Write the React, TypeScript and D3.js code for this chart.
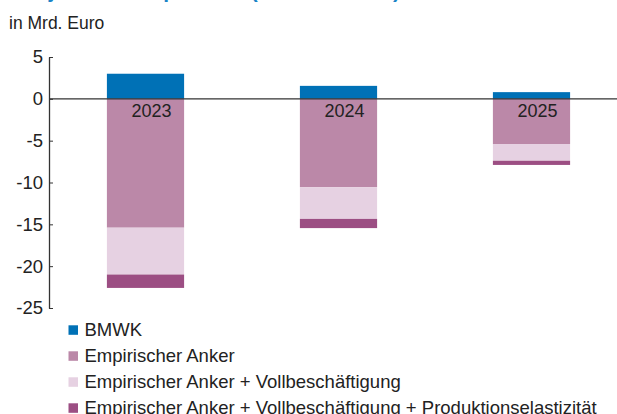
import { useEffect, useRef } from 'react';
import * as d3 from 'd3';

// Jahre und Segmente (Mrd. Euro)
const years = ['2023', '2024', '2025'];
const bmwk = [3.0, 1.55, 0.8];
const anker = [-15.4, -10.55, -5.4];
const vollbeschaeftigung = [-5.6, -3.8, -2.0];
const produktionselastizitaet = [-1.6, -1.1, -0.5];

const seriesNames = [
  'BMWK',
  'Empirischer Anker',
  'Empirischer Anker + Vollbeschäftigung',
  'Empirischer Anker + Vollbeschäftigung + Produktionselastizität',
];
const seriesColors = ['#0071b6', '#bb88a8', '#e6d1e2', '#9c4e83'];
const yTicks = [5, 0, -5, -10, -15, -20, -25];

const FONT = '"Liberation Sans", Arial, Helvetica, sans-serif';

const App = () => {
  const svgRef = useRef<SVGSVGElement>(null);

  useEffect(() => {
    const W = 617;
    const H = 414;
    const svg = d3.select(svgRef.current);
    svg.selectAll('*').remove();
    svg.attr('width', W).attr('height', H);

    // Titel (oben abgeschnitten wie im Original)
    svg.append('text')
      .attr('x', 8)
      .attr('y', -2.5)
      .attr('fill', '#1a84c7')
      .style('font-family', FONT)
      .style('font-size', '21px')
      .style('font-weight', 'bold')
      .text('Konjunkturkomponente (2023 bis 2025)');

    svg.append('text')
      .attr('x', 9)
      .attr('y', 29)
      .attr('fill', '#222')
      .style('font-family', FONT)
      .style('font-size', '17.5px')
      .text('in Mrd. Euro');

    const x = d3.scaleBand<string>()
      .domain(years)
      .range([49, 628])
      .paddingInner(0.6)
      .paddingOuter(0.3);

    const y = d3.scaleLinear()
      .domain([-25, 5])
      .range([308, 57]);

    const rows = years.map((yr, i) => ({
      year: yr,
      s0: bmwk[i],
      s1: anker[i],
      s2: vollbeschaeftigung[i],
      s3: produktionselastizitaet[i],
    }));

    const stacked = d3.stack<any>()
      .keys(['s0', 's1', 's2', 's3'])
      .offset(d3.stackOffsetDiverging)(rows);

    svg.append('g')
      .selectAll('g')
      .data(stacked)
      .join('g')
      .attr('fill', (_d, i) => seriesColors[i])
      .selectAll('rect')
      .data((d) => d)
      .join('rect')
      .attr('x', (d: any) => x(d.data.year)!)
      .attr('width', x.bandwidth())
      .attr('y', (d) => y(Math.max(d[0], d[1])))
      .attr('height', (d) => Math.abs(y(d[0]) - y(d[1])));

    // Nulllinie
    svg.append('line')
      .attr('x1', 49)
      .attr('x2', W)
      .attr('y1', y(0))
      .attr('y2', y(0))
      .attr('stroke', '#333')
      .attr('stroke-width', 1.3);

    // Y-Achse
    const yAxis = svg.append('g')
      .attr('transform', 'translate(49,0)')
      .call(
        d3.axisLeft(y)
          .tickValues(yTicks)
          .tickSizeInner(-4)
          .tickSizeOuter(0)
          .tickPadding(6)
          .tickFormat((d) => String(d))
      );
    yAxis.select('.domain').attr('stroke', '#333').attr('stroke-width', 1.3);
    yAxis.selectAll('.tick line').attr('stroke', '#333');
    yAxis.selectAll('.tick text')
      .attr('fill', '#222')
      .style('font-family', FONT)
      .style('font-size', '18.5px');

    // Jahreslabels in den Balken
    svg.append('g')
      .selectAll('text')
      .data(years)
      .join('text')
      .attr('x', (d) => x(d)! + x.bandwidth() / 2 + 6)
      .attr('y', y(0) + 18)
      .attr('text-anchor', 'middle')
      .attr('fill', '#222')
      .style('font-family', FONT)
      .style('font-size', '18px')
      .text((d) => d);

    // Legende
    const legend = svg.append('g')
      .selectAll('g')
      .data(seriesNames)
      .join('g')
      .attr('transform', (_d, i) => `translate(68.5,${330 + i * 26})`);
    legend.append('rect')
      .attr('x', 0)
      .attr('y', -4.7)
      .attr('width', 9.5)
      .attr('height', 9.5)
      .attr('fill', (_d, i) => seriesColors[i]);
    legend.append('text')
      .attr('x', 16)
      .attr('y', 0)
      .attr('dy', '0.35em')
      .attr('fill', '#222')
      .style('font-family', FONT)
      .style('font-size', '18.5px')
      .text((d) => d);
  }, []);

  return (
    <svg
      ref={svgRef}
      style={{ position: 'absolute', left: 0, top: 0, display: 'block' }}
    ></svg>
  );
};

export default App;
